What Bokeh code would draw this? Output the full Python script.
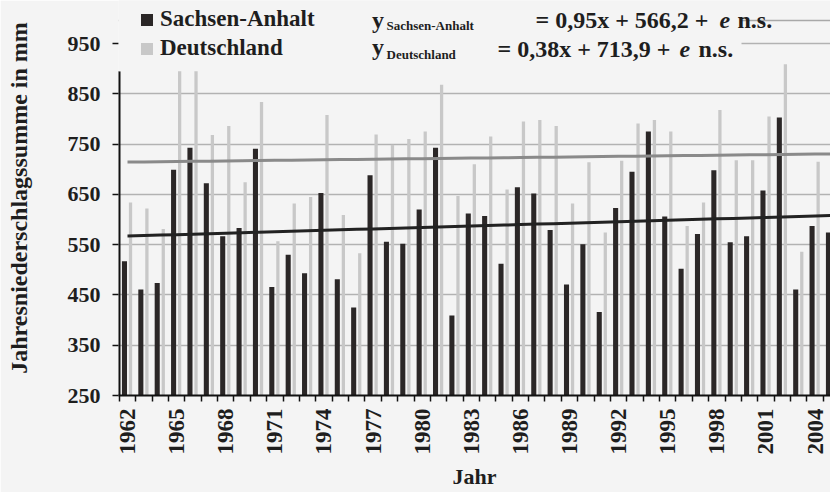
import math
from bokeh.plotting import figure
from bokeh.models import (Range1d, FixedTicker, Legend, LegendItem, Label,
                          BoxAnnotation, Span, ColumnDataSource, Title)
from bokeh.transform import dodge
from bokeh.embed import file_html
from bokeh.resources import INLINE

# ---------------- data ----------------
years = list(range(1962, 2006))
sachsen_anhalt = [517, 461, 474, 699, 743, 672, 567, 583, 741, 466,
                  530, 493, 653, 481, 425, 688, 556, 552, 620, 743,
                  409, 612, 607, 512, 664, 652, 579, 471, 551, 416,
                  623, 695, 775, 606, 502, 571, 698, 555, 567, 658,
                  803, 461, 587, 574]
deutschland = [634, 622, 581, 925, 925, 768, 786, 674, 834, 557,
               632, 645, 808, 609, 533, 769, 749, 760, 775, 868,
               647, 710, 765, 660, 795, 798, 786, 632, 714, 574,
               717, 791, 798, 775, 587, 634, 818, 718, 718, 805,
               909, 536, 715, float("nan")]
tick_years = list(range(1962, 2005, 3))
y_ticks = list(range(250, 951, 100))
trend_sa = (0.95, 566.2)   # slope, intercept (x = 1 for 1962)
trend_de = (0.38, 713.9)
eq_sa = "= 0,95x + 566,2 +"
eq_de = "= 0,38x + 713,9 +"

# ---------------- layout / style ----------------
W, H = 830, 492
BG = "#f4f4f4"
FONT = "Liberation Serif"
TXT = "#1e1e1e"
DARK = "#2b2727"
LIGHT = "#c8c8c8"

FL, FR, FT, FB = 118, 830, 0, 396           # frame edges in canvas pixels
PX_PER_MM = 0.504
x_start, x_end = 1961.45, 2004.94
y_start = 250
y_end = y_start + (FB - FT) / PX_PER_MM
LEGEND_BOTTOM = 895

def px2x(px):
    return x_start + (px - FL) / (FR - FL) * (x_end - x_start)

def py2y(py):
    return y_start + (FB - py) / (FB - FT) * (y_end - y_start)

src = ColumnDataSource(dict(
    year=years,
    sa=sachsen_anhalt,
    de=deutschland,
    tsa=[trend_sa[0] * (y - 1961) + trend_sa[1] for y in years],
    tde=[trend_de[0] * (y - 1961) + trend_de[1] for y in years],
))

p = figure(width=W, height=H,
           x_range=Range1d(x_start, x_end), y_range=Range1d(y_start, y_end),
           output_backend="svg", toolbar_location=None,
           min_border_left=FL, min_border_right=W - FR,
           min_border_top=FT, min_border_bottom=H - FB,
           background_fill_color=BG, border_fill_color=BG,
           outline_line_color=None)

# bars
r_de = p.vbar(x=dodge("year", 0.185), top="de", bottom=250, width=0.2,
              source=src, fill_color=LIGHT, line_color=None)
r_sa = p.vbar(x=dodge("year", -0.185), top="sa", bottom=250, width=0.31,
              source=src, fill_color=DARK, line_color=None)

# trend lines
p.line("year", "tde", source=src, line_color="#8a8a8a", line_width=3)
p.line("year", "tsa", source=src, line_color="#222222", line_width=3)

# own y-axis line (stops below the legend area)
p.segment(x0=[x_start], y0=[y_start], x1=[x_start], y1=[LEGEND_BOTTOM],
          line_color="#111111", line_width=4)

# proxy renderers for legend line samples
proxy1 = p.line(x=[], y=[], line_color="#a8a8a8", line_width=1.5)
proxy2 = p.line(x=[], y=[], line_color="#a8a8a8", line_width=1.5)

# axes
p.xgrid.visible = False
p.ygrid.ticker = FixedTicker(ticks=y_ticks)
p.ygrid.grid_line_color = "#b2b2b2"
p.ygrid.grid_line_width = 1.5

ya = p.yaxis[0]
ya.ticker = FixedTicker(ticks=y_ticks)
ya.axis_line_color = None
ya.major_tick_out = 6
ya.major_tick_in = 0
ya.major_tick_line_color = "#111111"
ya.major_tick_line_width = 1.5
ya.minor_tick_line_color = None
ya.major_label_standoff = 12
ya.major_label_text_font = FONT
ya.major_label_text_font_style = "bold"
ya.major_label_text_font_size = "22px"
ya.major_label_text_color = TXT
ya.axis_label = "Jahresniederschlagssumme in mm"
ya.axis_label_text_font = FONT
ya.axis_label_text_font_style = "bold"
ya.axis_label_text_font_size = "24px"
ya.axis_label_text_color = TXT
ya.axis_label_standoff = 33

xa = p.xaxis[0]
xa.ticker = FixedTicker(ticks=tick_years,
                        minor_ticks=[y - 0.5 for y in years] + [years[-1] + 0.5])
xa.major_tick_line_color = None
xa.major_tick_out = 0
xa.major_tick_in = 0
xa.minor_tick_out = 6
xa.minor_tick_in = 0
xa.minor_tick_line_color = "#111111"
xa.minor_tick_line_width = 1.5
xa.axis_line_color = "#111111"
xa.axis_line_width = 2
xa.major_label_orientation = math.pi / 2
xa.major_label_standoff = 7
xa.major_label_text_font = FONT
xa.major_label_text_font_style = "bold"
xa.major_label_text_font_size = "23px"
xa.major_label_text_color = TXT

# x-axis title (offset from the frame centre like in the original)
p.add_layout(Title(text="Jahr", align="center", offset=419 - (FL + FR) / 2,
                   standoff=8, text_font=FONT,
                   text_font_style="bold", text_font_size="22px",
                   text_color=TXT), "below")

# top line (visible right of legend block) and legend backing box
top_line = Span(location=py2y(20), dimension="width", line_color="#a8a8a8",
                line_width=1.5, level="underlay")
p.add_layout(top_line)
cover = BoxAnnotation(left=x_start, right=px2x(741), bottom=LEGEND_BOTTOM,
                      top=y_end, fill_color=BG, fill_alpha=1.0,
                      line_color=None, level="annotation")
p.add_layout(cover)

# legends
leg_bars = Legend(items=[LegendItem(label="Sachsen-Anhalt", renderers=[r_sa]),
                         LegendItem(label="Deutschland", renderers=[r_de])],
                  location=(21, 334), orientation="vertical",
                  background_fill_alpha=0, border_line_color=None,
                  padding=0, margin=0, spacing=3,
                  glyph_width=15, glyph_height=15, label_standoff=6,
                  label_height=25,
                  label_text_font=FONT, label_text_font_style="bold",
                  label_text_font_size="23px", label_text_color=TXT)
p.add_layout(leg_bars)

leg_lines = Legend(items=[LegendItem(label="y", renderers=[proxy1]),
                          LegendItem(label="y", renderers=[proxy2])],
                   location=(230, 334), orientation="vertical",
                   background_fill_alpha=0, border_line_color=None,
                   padding=0, margin=0, spacing=0,
                   glyph_width=19, glyph_height=14, label_standoff=5,
                   label_height=25,
                   label_text_font=FONT, label_text_font_style="bold",
                   label_text_font_size="24px", label_text_color=TXT)
p.add_layout(leg_lines)

def lab(px, py, text, size, style="bold", align="left"):
    p.add_layout(Label(x=px2x(px), y=py2y(py), text=text,
                       text_font=FONT, text_font_style=style,
                       text_font_size=size, text_color=TXT,
                       text_baseline="middle", text_align=align))

# equations
lab(386, 25, "Sachsen-Anhalt", "13px")
lab(535, 20, eq_sa, "24px")
lab(719, 20, "e", "24px", "bold italic")
lab(737, 20, "n.s.", "24px")
lab(386, 54, "Deutschland", "13px")
lab(497, 49, eq_de, "24px")
lab(679, 49, "e", "24px", "bold italic")
lab(698, 49, "n.s.", "24px")

open("out.html", "w").write(file_html(p, INLINE, title="Jahresniederschlagssumme"))
